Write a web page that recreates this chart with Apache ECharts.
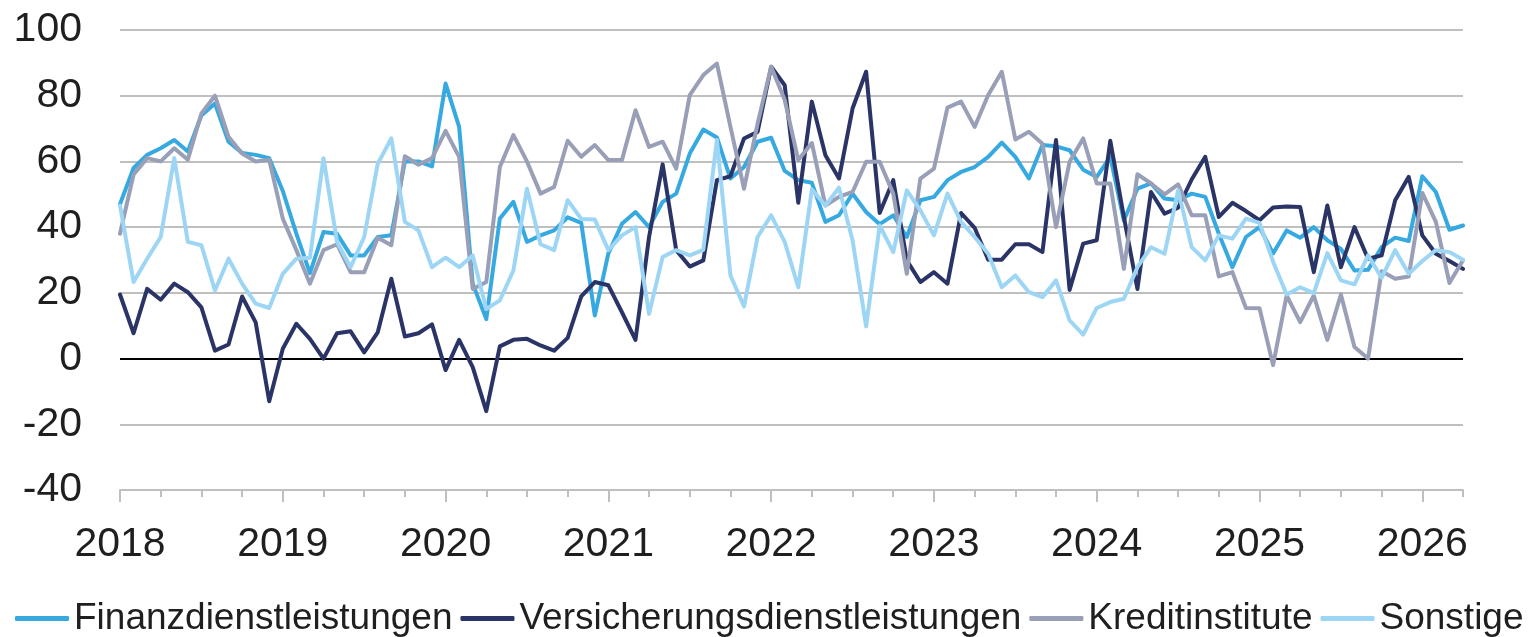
<!DOCTYPE html>
<html>
<head>
<meta charset="utf-8">
<script src="https://cdn.jsdelivr.net/npm/echarts@6/dist/echarts.min.js"></script>
<style>
html,body{margin:0;padding:0;background:#fff;}
#chart{width:1530px;height:637px;}
</style>
</head>
<body>
<div id="chart"></div>
<script>
// Monthly categories Jan 2018 .. Apr 2026
const years = ['2018','2019','2020','2021','2022','2023','2024','2025','2026'];
const months = ['01','02','03','04','05','06','07','08','09','10','11','12'];
const categories = [];
years.forEach(y => months.forEach(m => { if (categories.length < 100) categories.push(y + '-' + m); }));

const seriesNames = ['Finanzdienstleistungen','Versicherungsdienstleistungen','Kreditinstitute','Sonstige'];

const finanz = [47,58,62,64,66.5,63,74,77.6,66,62.6,62,61,
  51,38,26,38.5,38,31.4,31.4,37,37.5,60,60,58.5,
  83.7,70.5,22.8,12,42.6,47.7,35.5,37.5,39,43,41.3,13.1,
  32,41,44.6,40,47.7,50.2,62.4,69.7,67.3,54.8,58.3,66,
  67.2,57.1,54.3,53.5,41.6,43.6,50.2,44.6,40.9,43.6,37,48.2,
  49.2,54.3,56.8,58.3,61.4,65.7,61.4,54.8,65,64.6,63.4,57.5,
  55.3,61.4,42,51.7,53.3,48.7,48.2,50.2,49.2,38,27.8,37,
  40,32,39,36.8,40,36,33.4,26.8,27,33.9,36.8,35.8,
  55.5,50.7,39.2,40.5];

const versicherung = [19.5,7.7,21.2,17.9,22.8,20.2,15.6,2.4,4.3,18.9,11,-13,
  3,10.6,6,0,7.7,8.3,1.9,8,24.3,6.7,7.7,10.4,
  -3.5,5.7,-2.6,-16,3.7,5.7,6,4,2.4,6.3,18.9,23.3,
  22.3,14.1,5.7,37,59.1,33,28,29.9,54.3,55.5,67,69,
  88.8,83.2,47.4,78.2,61.9,54.8,76.1,87.3,44.3,54.3,29.9,23.3,
  26.3,22.8,44.3,39.8,30.1,30.1,34.8,34.8,32.4,66.5,20.9,35,
  36,66.3,43.1,21.2,50.7,44.1,45.9,54.5,61.4,43.1,47.4,44.9,
  42.1,46,46.3,46.1,26.3,46.6,27.8,40,30.4,31.4,48.2,55.3,
  37.5,31.9,29.7,27.3];

const kredit = [38,56,61,60,64,60.5,74.6,80,67.5,62.4,60,60.5,
  42.6,33,22.8,33,34.8,26.3,26.3,36.8,34.5,61.6,59,61,
  69.3,61.4,21.2,23.3,58.3,68,60,50.2,52.2,66.3,61.4,65,
  60.4,60.4,75.6,64.4,66,57.8,80.2,86.3,89.8,70.5,51.7,71.5,
  88.8,78.7,60.4,65.6,46.6,49.2,50.7,59.9,59.9,50.2,25.8,54.8,
  57.8,76.4,78.2,70.5,80.2,87.3,66.7,69,65.4,40,59.9,67,
  53.3,53.3,27.3,56.1,53.3,50,53,43.6,43.6,25,26.3,15.4,
  15.3,-2,19.2,11.1,19.2,5.7,19.5,3.5,0,26.6,24.3,25,
  50.4,41.6,23,29.9];

const sonstige = [46.6,23.3,30.4,37,61,35.5,34.5,20.7,30.4,22.8,16.7,15.4,
  25.8,30.4,30.7,61,35.5,27.8,37,59.3,67,41.6,39,27.8,
  30.7,27.8,31.4,15.1,17.7,26.8,51.7,34.8,33,48.2,42.5,42.3,
  33,37.5,40,13.6,30.9,33,31.4,33.1,66.5,25.3,15.9,37,
  43.6,35.5,21.7,51.5,46.6,52,36,9.8,40.5,32.4,51.2,45.1,
  37.5,50.2,41.6,37,31.9,21.7,25.3,20.2,18.7,23.8,11.6,7.3,
  15.4,17.2,18.2,27.8,33.9,31.9,51.2,33.9,29.9,37.5,36.5,42.6,
  41.3,29.5,19.5,21.7,19.9,32.1,23.8,22.6,31.4,24.6,33,25.8,
  29.7,33,32.4,30.1];

const yTicks = [-40,-20,0,20,40,60,80,100];
const colors = ['#36A9E1','#2A3466','#989FB7','#9DD6F5'];
const values = [finanz, versicherung, kredit, sonstige];

const font = 'Liberation Sans, Arial, sans-serif';
const chart = echarts.init(document.getElementById('chart'), null, {renderer:'canvas'});

const gridColor = '#BFBFBF';
const splitColors = yTicks.map(v => v === 0 ? '#000000' : gridColor);

chart.setOption({
  animation: false,
  backgroundColor: '#ffffff',
  grid: {left: 120, right: 67, top: 30, bottom: 147, containLabel: false},
  legend: {
    left: 15, top: 600, width: 1700, padding: 0,
    itemWidth: 54, itemHeight: 5, itemGap: 8,
    icon: 'roundRect',
    textStyle: {fontFamily: font, fontSize: 37, color: '#1f1f1f'},
    data: seriesNames
  },
  xAxis: [{
    type: 'category', position: 'bottom', data: categories, boundaryGap: false,
    axisLine: {show: true, onZero: false, lineStyle: {color: gridColor, width: 2}},
    axisTick: {show: true, length: 7, interval: i => i % 3 === 0, lineStyle: {color: gridColor, width: 2}},
    axisLabel: {
      show: true, interval: i => i % 12 === 0, margin: 34,
      fontFamily: font, fontSize: 41, color: '#1f1f1f',
      formatter: v => years[years.indexOf(v.slice(0,4))]
    },
    splitLine: {show: false}
  }, {
    type: 'category', position: 'bottom', data: categories, boundaryGap: false,
    axisLine: {show: false, onZero: false},
    axisTick: {show: true, length: 12, interval: i => i % 12 === 0, lineStyle: {color: gridColor, width: 2}},
    axisLabel: {show: false},
    splitLine: {show: false}
  }],
  yAxis: {
    type: 'value', min: -40, max: 100, interval: 20,
    axisLine: {show: false}, axisTick: {show: false},
    axisLabel: {fontFamily: font, fontSize: 41, color: '#1f1f1f', margin: 38},
    splitLine: {show: true, lineStyle: {color: splitColors, width: 2}}
  },
  series: seriesNames.map((name, k) => ({
    name: name, type: 'line', data: values[k], xAxisIndex: 0,
    symbol: 'none', showSymbol: false, smooth: false,
    itemStyle: {color: colors[k]},
    lineStyle: {color: colors[k], width: 4, cap: 'round', join: 'round'},
    z: 2 + k
  }))
});
</script>
</body>
</html>
